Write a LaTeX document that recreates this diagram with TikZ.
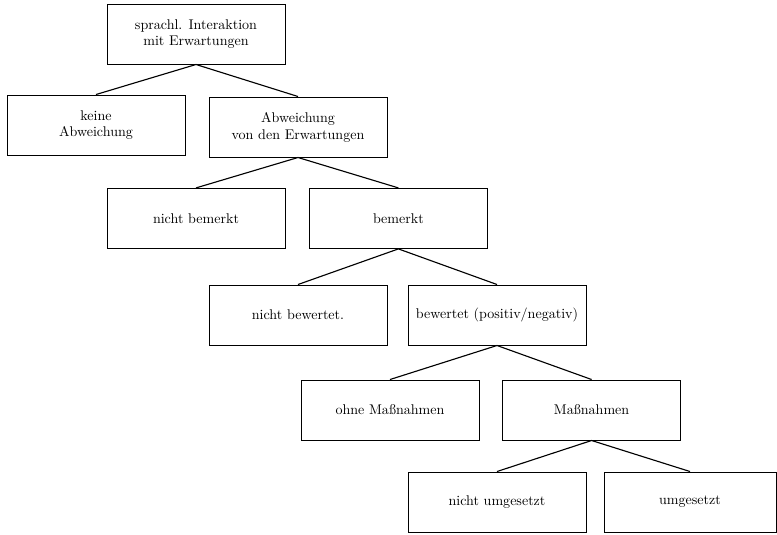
\documentclass[tikz,border=0pt]{standalone}
\usepackage{tikz}

\begin{document}
\begin{tikzpicture}[
        every node/.append style={draw, rectangle, align=center,
            minimum width=4.45cm, minimum height=1.5cm, line width=0.7pt},
        line width=0.8pt
    ]
        \useasboundingbox (0, 0) rectangle (19.425, -13.35);
        \node (I) at (4.9, -0.85)    {sprachl. Interaktion\\mit Erwartungen};
        \node (K) at (2.4, -3.125)   {keine\\Abweichung};
        \node (A) at (7.45, -3.175)  {Abweichung\\von den Erwartungen};
        \node (NB) at (4.9, -5.46)   {nicht bemerkt};
        \node (B) at (9.96, -5.46)   {bemerkt};
        \node (NW) at (7.45, -7.875) {nicht bewertet.};
        \node (W) at (12.425, -7.875) {bewertet (positiv/negativ)};
        \node (O) at (9.75, -10.25)  {ohne Maßnahmen};
        \node (M) at (14.79, -10.25) {Maßnahmen};
        \node (NU) at (12.425, -12.55) {nicht umgesetzt};
        \node[minimum width=4.3cm] (U) at (17.25, -12.55) {umgesetzt};
        \draw (K.north) -- (I.south) -- (A.north);
        \draw (NB.north) -- (A.south) -- (B.north);
        \draw (NW.north) -- (B.south) -- (W.north);
        \draw (O.north) -- (W.south) -- (M.north);
        \draw (NU.north) -- (M.south) -- (U.north);
    \end{tikzpicture}
\end{document}
